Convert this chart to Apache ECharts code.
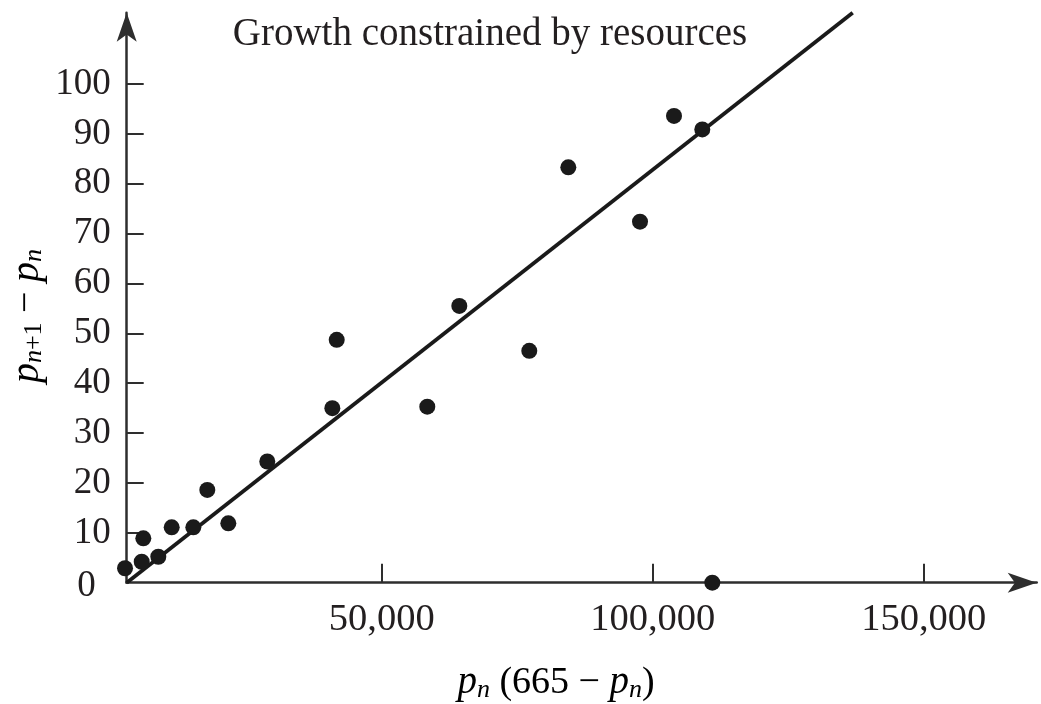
<!DOCTYPE html>
<html>
<head>
<meta charset="utf-8">
<script src="https://cdn.jsdelivr.net/npm/echarts@6/dist/echarts.min.js"></script>
<style>
html,body{margin:0;padding:0;background:#ffffff;}
#chart{width:1041px;height:704px;}
</style>
</head>
<body>
<div id="chart"></div>
<script>
// ---- data ----
const titleText = 'Growth constrained by resources';
// x: p_n (665 - p_n), y: p_{n+1} - p_n
const xValues = [2640, 6015, 5720, 8780, 11250, 15240, 17820, 21700, 28890, 41700, 40890, 58410, 64320, 77230, 84430, 97660, 103930, 109150, 111000];
const yValues = [2.9, 8.9, 4.2, 5.2, 11.1, 11.1, 18.6, 11.9, 24.3, 48.7, 35.0, 35.3, 55.5, 46.5, 83.3, 72.4, 93.6, 90.9, 0];
// fitted straight line: two end points in data units
const lineX = [2950, 136900];
const lineY = [0, 114.3];
// axis ticks
const xTickValues = [50000, 100000, 150000];
const yTickValues = [0, 10, 20, 30, 40, 50, 60, 70, 80, 90, 100];
const yTickMarks = [10, 20, 30, 40, 50, 60, 70, 80, 90, 100];
const xAxisRange = [2950, 170850];
const yAxisRange = [0, 114.3];

const scatterData = xValues.map((x, i) => [x, yValues[i]]);
const lineData = lineX.map((x, i) => [x, lineY[i]]);

const serif = '"Liberation Serif", "DejaVu Serif", serif';
const textColor = '#231f20';
const axisColor = '#2e2e2e';
const markColor = '#1a1a1a';

const chart = echarts.init(document.getElementById('chart'), null, {renderer: 'canvas'});

const axisLineCommon = {
  show: true,
  symbol: ['none', 'arrow'],
  symbolSize: [15, 29],
  symbolOffset: [0, 0],
  lineStyle: {color: axisColor, width: 2.5}
};

chart.setOption({
  animation: false,
  backgroundColor: '#ffffff',
  title: {
    text: titleText,
    left: 485,
    textAlign: 'center',
    top: 10,
    textStyle: {fontFamily: serif, fontSize: 39, fontWeight: 'normal', color: textColor}
  },
  grid: {left: 126.7, right: 4.3, top: 12.7, bottom: 121.3, containLabel: false},
  xAxis: {
    type: 'value',
    min: xAxisRange[0],
    max: xAxisRange[1],
    axisLine: axisLineCommon,
    axisTick: {show: true, inside: true, length: 19, customValues: xTickValues, lineStyle: {color: axisColor, width: 2}},
    axisLabel: {
      customValues: xTickValues,
      formatter: v => Number(v).toLocaleString('en-US'),
      fontFamily: serif, fontSize: 38.5, color: textColor, margin: 18
    },
    splitLine: {show: false}
  },
  yAxis: {
    type: 'value',
    min: yAxisRange[0],
    max: yAxisRange[1],
    axisLine: axisLineCommon,
    axisTick: {show: true, inside: true, length: 17, customValues: yTickMarks, lineStyle: {color: axisColor, width: 2}},
    axisLabel: {
      customValues: yTickValues,
      formatter: v => (v === 0 ? '{z|0}' : String(v)),
      fontFamily: serif, fontSize: 37, color: textColor, margin: 16,
      rich: {z: {fontFamily: serif, fontSize: 37, color: textColor, padding: [8, 15, 0, 0]}}
    },
    splitLine: {show: false}
  },
  graphic: [
    {
      type: 'text',
      x: 27, y: 316,
      rotation: Math.PI / 2,
      style: {
        text: '{i|p}{s|n}{u|+1}{r| − }{i|p}{s|n}',
        align: 'center', verticalAlign: 'middle',
        rich: {
          i: {fontFamily: serif, fontStyle: 'italic', fontSize: 40, color: textColor, lineHeight: 40, verticalAlign: 'middle'},
          r: {fontFamily: serif, fontSize: 38, color: textColor, lineHeight: 40, verticalAlign: 'middle'},
          s: {fontFamily: serif, fontStyle: 'italic', fontSize: 26, color: textColor, lineHeight: 17, verticalAlign: 'bottom'},
          u: {fontFamily: serif, fontSize: 26, color: textColor, lineHeight: 17, verticalAlign: 'bottom'}
        }
      }
    },
    {
      type: 'text',
      x: 556, y: 683,
      style: {
        text: '{i|p}{s|n}{r| (665 − }{i|p}{s|n}{r|)}',
        align: 'center', verticalAlign: 'middle',
        rich: {
          i: {fontFamily: serif, fontStyle: 'italic', fontSize: 39, color: textColor, lineHeight: 40, verticalAlign: 'middle'},
          r: {fontFamily: serif, fontSize: 38, color: textColor, lineHeight: 40, verticalAlign: 'middle'},
          s: {fontFamily: serif, fontStyle: 'italic', fontSize: 26, color: textColor, lineHeight: 17, verticalAlign: 'bottom'}
        }
      }
    }
  ],
  series: [
    {
      type: 'line',
      data: lineData,
      showSymbol: false,
      symbol: 'none',
      lineStyle: {color: markColor, width: 3.8},
      z: 2
    },
    {
      type: 'scatter',
      data: scatterData,
      symbol: 'circle',
      symbolSize: 16,
      clip: false,
      itemStyle: {color: markColor, opacity: 1},
      z: 3
    }
  ]
});
</script>
</body>
</html>
